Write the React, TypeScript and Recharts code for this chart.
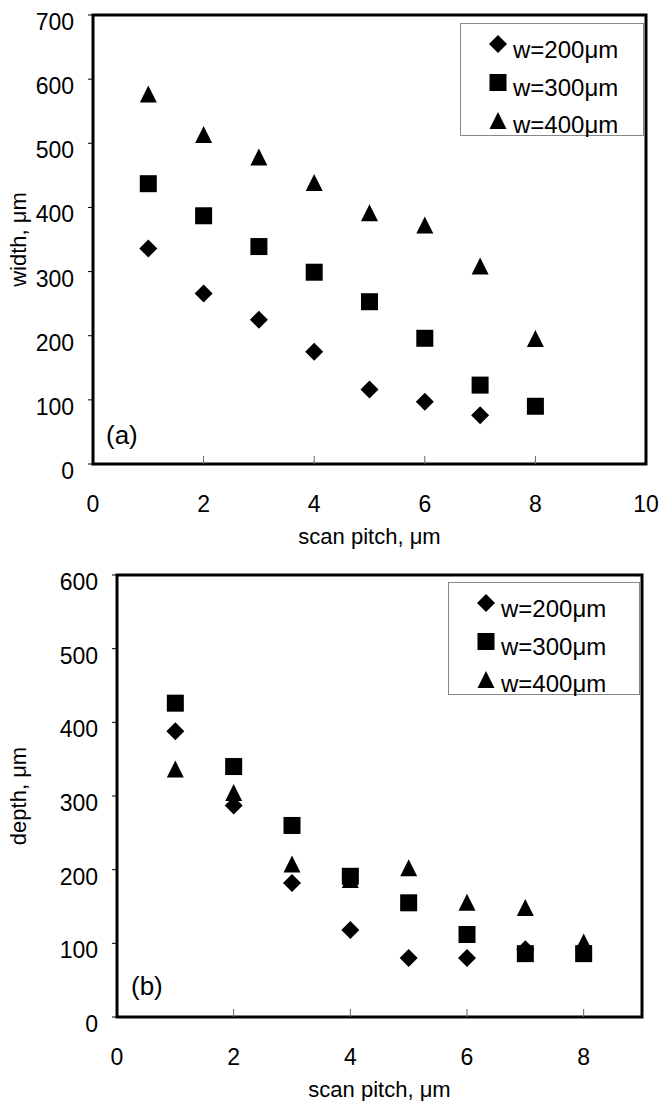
import React from 'react';
import { ScatterChart, Scatter, XAxis, YAxis, ReferenceArea, Legend } from 'recharts';

const FONT = '"Liberation Sans", Arial, Helvetica, sans-serif';

// ---- data ----
const scanPitch = [1, 2, 3, 4, 5, 6, 7, 8];
const seriesNames = ['w=200μm', 'w=300μm', 'w=400μm'];

const widthW200 = [336, 266, 225, 175, 116, 97, 76];
const widthW300 = [437, 387, 339, 299, 253, 196, 123, 90];
const widthW400 = [576, 513, 478, 438, 391, 372, 308, 195];

const depthW200 = [388, 287, 182, 118, 80, 80, 92];
const depthW300 = [426, 340, 260, 191, 155, 112, 86, 86];
const depthW400 = [336, 304, 207, 186, 202, 155, 148, 101];

const widthXTicks = [0, 2, 4, 6, 8, 10];
const widthYTicks = [0, 100, 200, 300, 400, 500, 600, 700];
const depthXTicks = [0, 2, 4, 6, 8];
const depthYTicks = [0, 100, 200, 300, 400, 500, 600];
const innerXTicks = [2, 4, 6, 8];

const toPoints = (vals: number[]) => vals.map((v, i) => ({ x: scanPitch[i], y: v }));

// ---- marker shapes ----
const drawDiamond = (cx: number, cy: number, r = 9) => (
  <polygon points={`${cx},${cy - r} ${cx + r},${cy} ${cx},${cy + r} ${cx - r},${cy}`} fill="#000" />
);
const drawSquare = (cx: number, cy: number, s = 17) => (
  <rect x={cx - s / 2} y={cy - s / 2} width={s} height={s} fill="#000" />
);
const drawTriangle = (cx: number, cy: number) => (
  <polygon points={`${cx},${cy - 9} ${cx + 8.5},${cy + 8} ${cx - 8.5},${cy + 8}`} fill="#000" />
);
const drawers = [drawDiamond, drawSquare, drawTriangle];

const DiamondShape = (p: any) => drawDiamond(p.cx, p.cy);
const SquareShape = (p: any) => drawSquare(p.cx, p.cy);
const TriangleShape = (p: any) => drawTriangle(p.cx, p.cy);

// ---- ticks ----
const XTick = (props: any) => {
  const { x, y, payload } = props;
  return (
    <g>
      {innerXTicks.includes(payload.value) && (
        <line x1={x} y1={y} x2={x} y2={y - 8} stroke="#666" strokeWidth={1} />
      )}
      <text x={x} y={y + 48} textAnchor="middle" fontSize={23} fontFamily={FONT} fill="#000">
        {payload.value}
      </text>
    </g>
  );
};

const YTick = (props: any) => {
  const { x, y, payload } = props;
  return (
    <g>
      <line x1={x} y1={y} x2={x - 5} y2={y} stroke="#000" strokeWidth={1} />
      <text x={x - 19} y={y + 15} textAnchor="end" fontSize={23} fontFamily={FONT} fill="#000">
        {payload.value}
      </text>
    </g>
  );
};

const xTitle = (text: string) => (p: any) => {
  const vb = p.viewBox || {};
  return (
    <text x={vb.x + vb.width / 2} y={vb.y + 80} textAnchor="middle" fontSize={22} fontFamily={FONT} fill="#000">
      {text}
    </text>
  );
};

const yTitle = (text: string) => (p: any) => {
  const vb = p.viewBox || {};
  const cx = 25.5;
  const cy = vb.y + vb.height / 2;
  return (
    <text x={cx} y={cy} transform={`rotate(-90, ${cx}, ${cy})`} textAnchor="middle" fontSize={22} fontFamily={FONT} fill="#000">
      {text}
    </text>
  );
};

const panelLabel = (text: string, dx: number, dy: number) => (p: any) => {
  const vb = p.viewBox || {};
  return (
    <text x={vb.x + dx} y={vb.y + vb.height - dy} fontSize={26} fontFamily={FONT} fill="#000">
      {text}
    </text>
  );
};

const LegendBox = ({ w }: { w: number }) => (
  <svg width={w} height={114} style={{ display: 'block' }}>
    <rect x={0.5} y={0.5} width={w - 1} height={112} fill="#fff" stroke="#888" strokeWidth={1} />
    {seriesNames.map((n, i) => (
      <g key={n}>
        {drawers[i](38, 21 + i * 38.5)}
        <text x={53} y={35 + i * 37.5} fontSize={24} fontFamily={FONT} fill="#000">
          {n}
        </text>
      </g>
    ))}
  </svg>
);

export default function App() {
  return (
    <div style={{ position: 'absolute', left: 0, top: 0, width: 661, height: 1101, overflow: 'hidden' }}>
      <ScatterChart width={661} height={560} margin={{ top: 15, right: 15, bottom: 16, left: 0 }}>
        <XAxis
          type="number"
          dataKey="x"
          domain={[0, 10]}
          ticks={widthXTicks}
          interval={0}
          axisLine={false}
          tickLine={false}
          tickSize={0}
          tickMargin={0}
          height={80}
          tick={XTick}
          label={{ content: xTitle('scan pitch, μm') }}
        />
        <YAxis
          type="number"
          dataKey="y"
          domain={[0, 700]}
          ticks={widthYTicks}
          interval={0}
          axisLine={false}
          tickLine={false}
          tickSize={0}
          tickMargin={0}
          width={93}
          tick={YTick}
          label={{ content: yTitle('width, μm') }}
        />
        <ReferenceArea
          x1={0}
          x2={10}
          y1={0}
          y2={700}
          fill="none"
          fillOpacity={0}
          stroke="#000"
          strokeWidth={3}
          label={{ content: panelLabel('(a)', 13, 20) }}
        />
        <Scatter name={seriesNames[0]} data={toPoints(widthW200)} shape={DiamondShape} isAnimationActive={false} />
        <Scatter name={seriesNames[1]} data={toPoints(widthW300)} shape={SquareShape} isAnimationActive={false} />
        <Scatter name={seriesNames[2]} data={toPoints(widthW400)} shape={TriangleShape} isAnimationActive={false} />
        <Legend
          layout="vertical"
          align="center"
          verticalAlign="middle"
          content={() => <LegendBox w={184} />}
          wrapperStyle={{ left: 460, top: 23, width: 184, height: 114 }}
        />
      </ScatterChart>
      <ScatterChart width={661} height={541} margin={{ top: 15, right: 19, bottom: 4, left: 0 }}>
        <XAxis
          type="number"
          dataKey="x"
          domain={[0, 9]}
          ticks={depthXTicks}
          interval={0}
          axisLine={false}
          tickLine={false}
          tickSize={0}
          tickMargin={0}
          height={80}
          tick={XTick}
          label={{ content: xTitle('scan pitch, μm') }}
        />
        <YAxis
          type="number"
          dataKey="y"
          domain={[0, 600]}
          ticks={depthYTicks}
          interval={0}
          axisLine={false}
          tickLine={false}
          tickSize={0}
          tickMargin={0}
          width={117}
          tick={YTick}
          label={{ content: yTitle('depth, μm') }}
        />
        <ReferenceArea
          x1={0}
          x2={9}
          y1={0}
          y2={600}
          fill="none"
          fillOpacity={0}
          stroke="#000"
          strokeWidth={3}
          label={{ content: panelLabel('(b)', 14, 22) }}
        />
        <Scatter name={seriesNames[0]} data={toPoints(depthW200)} shape={DiamondShape} isAnimationActive={false} />
        <Scatter name={seriesNames[1]} data={toPoints(depthW300)} shape={SquareShape} isAnimationActive={false} />
        <Scatter name={seriesNames[2]} data={toPoints(depthW400)} shape={TriangleShape} isAnimationActive={false} />
        <Legend
          layout="vertical"
          align="center"
          verticalAlign="middle"
          content={() => <LegendBox w={192} />}
          wrapperStyle={{ left: 448, top: 22, width: 192, height: 114 }}
        />
      </ScatterChart>
    </div>
  );
}
